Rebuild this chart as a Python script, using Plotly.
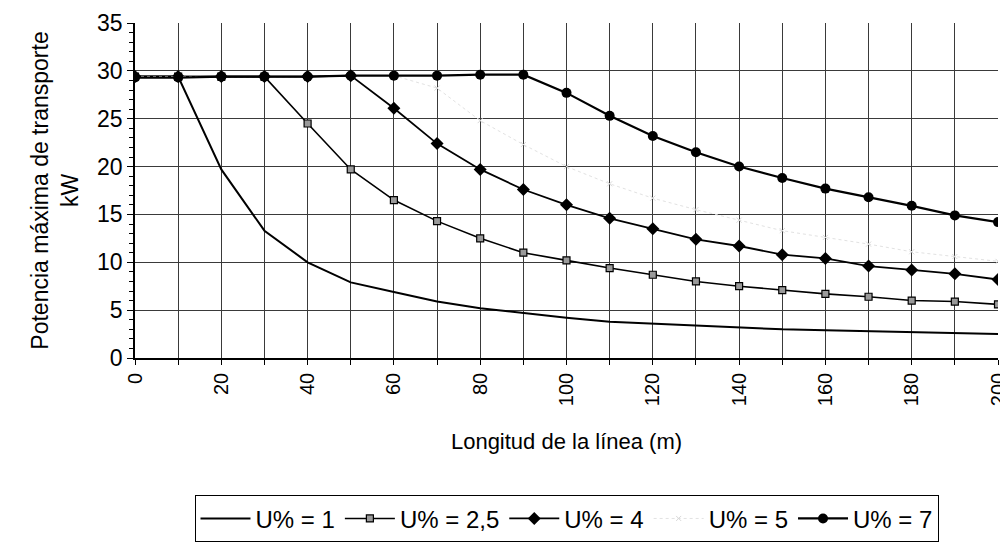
import plotly.graph_objects as go

longitud = [0, 10, 20, 30, 40, 50, 60, 70, 80, 90, 100, 110, 120, 130, 140, 150, 160, 170, 180, 190, 200]

u1 = [29.4, 29.4, 19.7, 13.3, 10.0, 7.9, 6.9, 5.9, 5.2, 4.7, 4.2, 3.8, 3.6, 3.4, 3.2, 3.0, 2.9, 2.8, 2.7, 2.6, 2.5]
u25 = [29.4, 29.4, 29.4, 29.4, 24.5, 19.7, 16.5, 14.3, 12.5, 11.0, 10.2, 9.4, 8.7, 8.0, 7.5, 7.1, 6.7, 6.4, 6.0, 5.9, 5.6]
u4 = [29.4, 29.4, 29.4, 29.4, 29.4, 29.5, 26.1, 22.4, 19.7, 17.6, 16.0, 14.6, 13.5, 12.4, 11.7, 10.8, 10.4, 9.6, 9.2, 8.8, 8.2]
u5 = [29.4, 29.4, 29.4, 29.4, 29.4, 29.5, 29.5, 28.2, 24.8, 22.3, 20.0, 18.2, 16.7, 15.5, 14.4, 13.3, 12.6, 11.9, 11.1, 10.6, 10.1]
u7 = [29.3, 29.3, 29.4, 29.4, 29.4, 29.5, 29.5, 29.5, 29.6, 29.6, 27.7, 25.3, 23.2, 21.5, 20.0, 18.8, 17.7, 16.8, 15.9, 14.9, 14.2]

x_tick_vals = list(range(0, 201, 10))
x_tick_text = [str(v) if v % 20 == 0 else "" for v in x_tick_vals]

FONT = "Liberation Sans, Arial, sans-serif"

fig = go.Figure()
fig.add_trace(go.Scatter(x=longitud, y=u1, name="U% = 1", mode="lines",
                         line=dict(color="black", width=2)))
fig.add_trace(go.Scatter(x=longitud, y=u25, name="U% = 2,5", mode="lines+markers",
                         line=dict(color="black", width=1.6),
                         marker=dict(symbol="square", size=7, color="#9a9a9a",
                                     line=dict(color="black", width=1.2))))
fig.add_trace(go.Scatter(x=longitud, y=u4, name="U% = 4", mode="lines+markers",
                         line=dict(color="black", width=1.8),
                         marker=dict(symbol="diamond", size=10, color="black")))
fig.add_trace(go.Scatter(x=longitud, y=u5, name="U% = 5", mode="lines+markers",
                         line=dict(color="#e2e2e2", width=1, dash="dot"),
                         marker=dict(symbol="x-thin", size=5, color="#d8d8d8",
                                     line=dict(color="#d8d8d8", width=1))))
fig.add_trace(go.Scatter(x=longitud, y=u7, name="U% = 7", mode="lines+markers",
                         line=dict(color="black", width=2.2),
                         marker=dict(symbol="circle", size=10, color="black")))

fig.update_layout(
    width=1008, height=546,
    margin=dict(l=127, r=18, t=15, b=192),
    paper_bgcolor="white", plot_bgcolor="white",
    font=dict(family=FONT, size=22, color="black"),
    showlegend=True,
    legend=dict(orientation="h", x=0.5, xanchor="center", y=-0.41, yanchor="top",
                bordercolor="black", borderwidth=1, font=dict(size=24),
                itemwidth=50, tracegroupgap=0),
    xaxis=dict(range=[0, 200], tickmode="array", tickvals=x_tick_vals, ticktext=x_tick_text,
               tickangle=-90, showgrid=True, gridcolor="#3a3a3a", gridwidth=1,
               showline=True, linecolor="black", linewidth=1.5, automargin=False,
               ticks="outside", ticklen=5, tickcolor="black", zeroline=False,
               tickfont=dict(size=20),
               title=dict(text="Longitud de la línea (m)", font=dict(size=22), standoff=28)),
    yaxis=dict(range=[0, 35], dtick=5, showgrid=True, gridcolor="#3a3a3a", gridwidth=1,
               showline=True, linecolor="black", linewidth=1.5, automargin=False,
               ticks="outside", ticklen=6, tickcolor="black", zeroline=False,
               tickfont=dict(size=23),
               minor=dict(dtick=1, ticks="outside", ticklen=4, tickcolor="black", showgrid=False),
               title=dict(text="Potencia máxima de transporte<br>kW", font=dict(size=23), standoff=12)),
)

fig.write_html("out.html")
